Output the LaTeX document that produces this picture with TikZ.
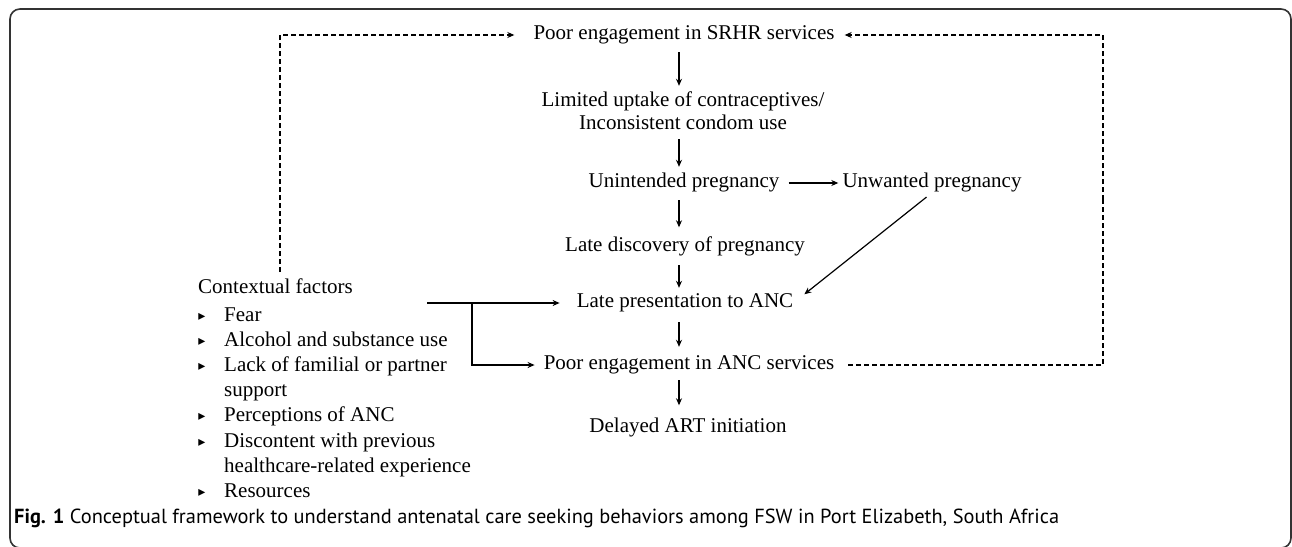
\documentclass[tikz,border=0pt]{standalone}
\usepackage{fontspec}
\setmainfont{Liberation Serif}
\newfontfamily\capfont{PT Sans}
\newfontfamily\symfont{DejaVu Sans}
\usetikzlibrary{arrows.meta}
\begin{document}
\begin{tikzpicture}[x=1pt,y=-1pt,
  txt/.style={inner sep=0pt, font=\fontsize{21}{23}\selectfont, text height=14pt, text depth=5pt},
  mtxt/.style={inner sep=0pt, font=\fontsize{21}{23}\selectfont, align=center},
  ltxt/.style={txt, anchor=west},
  bul/.style={inner sep=0pt, font=\symfont\fontsize{14}{14}\selectfont},
  flow/.style={line width=1.2pt, -{Stealth[length=7pt,width=6pt]}},
  dsh/.style={line width=1.1pt, dash pattern=on 5pt off 3pt, -{Stealth[length=7pt,width=6pt]}},
  frame/.style={draw=black!80, line width=1.6pt, rounded corners=10pt}
]
\useasboundingbox (0,0) rectangle (1292,546);
\draw[frame] (10,9) rectangle (1291,548);

% main column
\node[txt] (srhr) at (684,35) {Poor engagement in SRHR services};
\node[mtxt] (lim) at (683,111) {Limited uptake of contraceptives/\\Inconsistent condom use};
\node[txt] (unint) at (684,183) {Unintended pregnancy};
\node[txt] (unw) at (932,183) {Unwanted pregnancy};
\node[txt] (late) at (685,247) {Late discovery of pregnancy};
\node[txt] (pres) at (685,303) {Late presentation to ANC};
\node[txt] (anc) at (689,365) {Poor engagement in ANC services};
\node[txt] (art) at (688,428) {Delayed ART initiation};

\coordinate (ax) at (679,0);
\draw[flow, shorten <=7.5pt, shorten >=6pt] (srhr.south -| ax) -- (lim.north -| ax);
\draw[flow, shorten <=9pt, shorten >=6.5pt] (lim.south -| ax) -- (unint.north -| ax);
\draw[flow, shorten <=7.5pt, shorten >=10pt] (unint.south -| ax) -- (late.north -| ax);
\draw[flow, shorten <=8.5pt, shorten >=5.5pt] (late.south -| ax) -- (pres.north -| ax);
\draw[flow, shorten <=9.5pt, shorten >=8.5pt] (pres.south -| ax) -- (anc.north -| ax);
\draw[flow, shorten <=5.5pt, shorten >=13pt] (anc.south -| ax) -- (art.north -| ax);
\draw[flow, shorten <=9pt, shorten >=4pt] (unint.east) -- (unw.west);
\draw[flow, shorten <=7pt, shorten >=14pt] (unw.south) -- (pres.east);

% contextual factors
\node[ltxt] (ctx) at (198,289) {Contextual factors};
\foreach \n/\yy/\t in {f1/317/Fear, f2/342/Alcohol and substance use, f3/367/Lack of familial or partner, f4/417/Perceptions of ANC, f5/443/Discontent with previous, f6/493/Resources}{
  \node[bul] (b\n) at (202,\yy) {▸};
  \node[ltxt] (\n) at (224,\yy) {\t};
}
\node[ltxt] (f3b) at (224,392) {support};
\node[ltxt] (f5b) at (224,468) {healthcare-related experience};

\coordinate (cstart) at (427,303);
\coordinate (cbr) at (472,303);
\draw[flow, shorten >=17pt] (cstart) -- (pres.west);
\draw[flow, shorten >=9pt] (cbr) |- (anc.west);

% dashed feedback loops
\coordinate (dl) at (280,272);
\draw[dsh, shorten >=19pt] (dl) |- (srhr.west);
\coordinate (dr) at (1103,200);
\draw[dsh, -, shorten <=14pt] (anc.east) -| (dr);
\draw[dsh, shorten >=10pt] (dr) |- (srhr.east);

% caption
\node[anchor=west, inner sep=0pt, font=\capfont\fontsize{20.4}{24}\selectfont] (cap) at (14,518)
  {\textbf{Fig. 1} Conceptual framework to understand antenatal care seeking behaviors among FSW in Port Elizabeth, South Africa};
\end{tikzpicture}
\end{document}
